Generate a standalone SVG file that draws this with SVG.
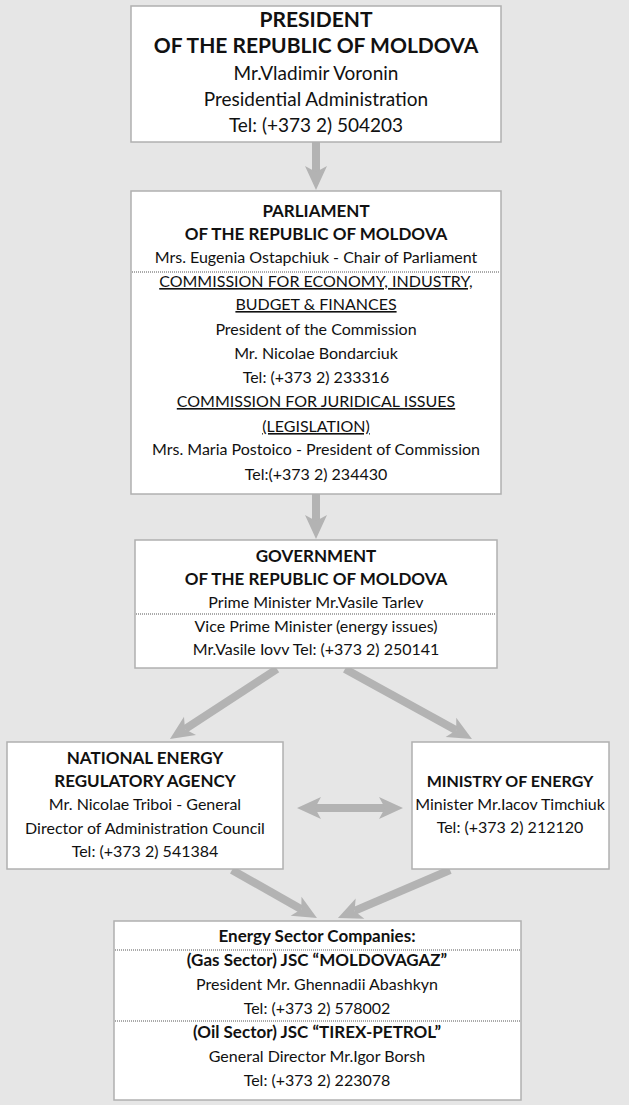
<svg xmlns="http://www.w3.org/2000/svg" width="629" height="1105" viewBox="0 0 629 1105">
<defs>
<style>
.bg{fill:#e6e6e6}
.box{fill:#ffffff;stroke:#b0b0b0;stroke-width:1.5}
.dot{stroke:#555;stroke-width:1;stroke-dasharray:1 1;fill:none}
text{font-family:Lato,"Liberation Sans",sans-serif;fill:#111;text-anchor:middle}
.pt{font-size:21px;font-weight:bold}
.pb{font-size:19px}
.t{font-size:17px;font-weight:bold}
.b{font-size:16px}
.u{text-decoration:underline}
.arr{stroke:#b3b3b3;stroke-width:8;fill:none}
</style>
<marker id="head" markerUnits="userSpaceOnUse" markerWidth="30" markerHeight="30" viewBox="-2 -14 30 28" refX="6" refY="0" orient="auto-start-reverse">
<path d="M0,-11 L24,0 L0,11 L6,0 Z" fill="#b3b3b3"/>
</marker>
</defs>
<rect class="bg" x="0" y="0" width="629" height="1105"/>

<g id="connectors">
<line class="arr" x1="316" y1="142" x2="316" y2="172" marker-end="url(#head)"/>
<line class="arr" x1="316" y1="494" x2="316" y2="521" marker-end="url(#head)"/>
<line class="arr" x1="277" y1="669" x2="185" y2="729.2" marker-end="url(#head)"/>
<line class="arr" x1="345" y1="669" x2="456.2" y2="730.3" marker-end="url(#head)"/>
<line class="arr" x1="315" y1="808" x2="385" y2="808" marker-start="url(#head)" marker-end="url(#head)"/>
<line class="arr" x1="232" y1="870" x2="301.3" y2="909.2" marker-end="url(#head)"/>
<line class="arr" x1="450" y1="870" x2="354.5" y2="910.9" marker-end="url(#head)"/>
</g>

<g id="president">
<rect class="box" x="131" y="6" width="370" height="136"/>
<text class="pt" x="316" y="27">PRESIDENT</text>
<text class="pt" x="316" y="53">OF THE REPUBLIC OF MOLDOVA</text>
<text class="pb" x="316" y="80">Mr.Vladimir Voronin</text>
<text class="pb" x="316" y="106">Presidential Administration</text>
<text class="pb" x="316" y="132">Tel: (+373 2) 504203</text>
</g>

<g id="parliament">
<rect class="box" x="131" y="191" width="370" height="303"/>
<text class="t" x="316" y="217">PARLIAMENT</text>
<text class="t" x="316" y="240">OF THE REPUBLIC OF MOLDOVA</text>
<text class="b" x="316" y="263">Mrs. Eugenia Ostapchiuk - Chair of Parliament</text>
<line class="dot" x1="132" y1="272" x2="500" y2="272"/>
<text class="b u" x="316" y="287">COMMISSION FOR ECONOMY, INDUSTRY,</text>
<text class="b u" x="316" y="310">BUDGET &amp; FINANCES</text>
<text class="b" x="316" y="335">President of the Commission</text>
<text class="b" x="316" y="359">Mr. Nicolae Bondarciuk</text>
<text class="b" x="316" y="383">Tel: (+373 2) 233316</text>
<text class="b u" x="316" y="407">COMMISSION FOR JURIDICAL ISSUES</text>
<text class="b u" x="316" y="432">(LEGISLATION)</text>
<text class="b" x="316" y="455">Mrs. Maria Postoico - President of Commission</text>
<text class="b" x="316" y="480">Tel:(+373 2) 234430</text>
</g>

<g id="government">
<rect class="box" x="135" y="540" width="362" height="128"/>
<text class="t" x="316" y="562">GOVERNMENT</text>
<text class="t" x="316" y="585">OF THE REPUBLIC OF MOLDOVA</text>
<text class="b" x="316" y="608">Prime Minister Mr.Vasile Tarlev</text>
<line class="dot" x1="136" y1="614" x2="496" y2="614"/>
<text class="b" x="316" y="632">Vice Prime Minister (energy issues)</text>
<text class="b" x="316" y="655">Mr.Vasile Iovv Tel: (+373 2) 250141</text>
</g>

<g id="nera">
<rect class="box" x="7" y="742" width="276" height="127"/>
<text class="t" x="145" y="764">NATIONAL ENERGY</text>
<text class="t" x="145" y="787">REGULATORY AGENCY</text>
<text class="b" x="145" y="810">Mr. Nicolae Triboi - General</text>
<text class="b" x="145" y="834">Director of Administration Council</text>
<text class="b" x="145" y="857">Tel: (+373 2) 541384</text>
</g>

<g id="ministry">
<rect class="box" x="412" y="742" width="197" height="127"/>
<text class="t" x="510" y="787" style="font-size:16px">MINISTRY OF ENERGY</text>
<text class="b" x="510" y="810">Minister Mr.Iacov Timchiuk</text>
<text class="b" x="510" y="833">Tel: (+373 2) 212120</text>
</g>

<g id="companies">
<rect class="box" x="114" y="921" width="407" height="179"/>
<text class="t" x="317" y="942">Energy Sector Companies:</text>
<line class="dot" x1="115" y1="950" x2="520" y2="950"/>
<text class="t" x="317" y="966">(Gas Sector) JSC “MOLDOVAGAZ”</text>
<text class="b" x="317" y="990">President Mr. Ghennadii Abashkyn</text>
<text class="b" x="317" y="1014">Tel: (+373 2) 578002</text>
<line class="dot" x1="115" y1="1021" x2="520" y2="1021"/>
<text class="t" x="317" y="1038">(Oil Sector) JSC “TIREX-PETROL”</text>
<text class="b" x="317" y="1062">General Director Mr.Igor Borsh</text>
<text class="b" x="317" y="1086">Tel: (+373 2) 223078</text>
</g>
</svg>
